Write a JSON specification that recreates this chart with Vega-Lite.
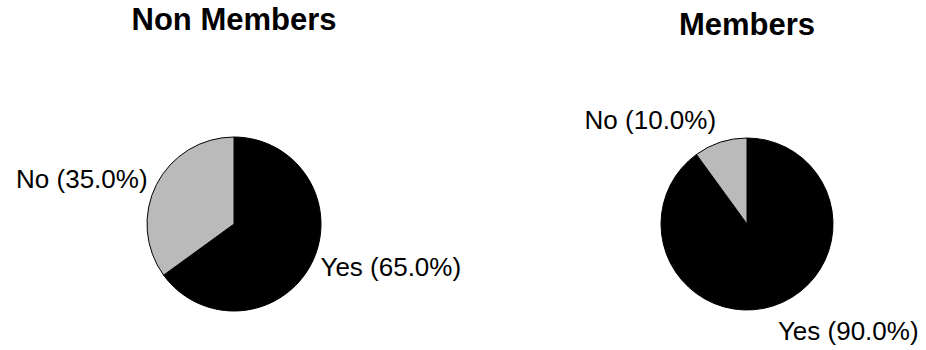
{
  "$schema": "https://vega.github.io/schema/vega-lite/v6.json",
  "padding": {"left": 0, "top": 5, "right": 0, "bottom": 0},
  "background": "white",
  "spacing": 100,
  "config": {
    "view": {"stroke": null},
    "font": "Liberation Sans",
    "title": {"font": "Liberation Sans", "fontSize": 31, "fontWeight": "bold", "color": "black", "anchor": "middle", "baseline": "alphabetic"}
  },
  "data": {"values": [
    {"group": "Non Members", "answer": "Yes", "value": 65, "label": "Yes (65.0%)"},
    {"group": "Non Members", "answer": "No", "value": 35, "label": "No (35.0%)"},
    {"group": "Members", "answer": "Yes", "value": 90, "label": "Yes (90.0%)"},
    {"group": "Members", "answer": "No", "value": 10, "label": "No (10.0%)"}
  ]},
  "hconcat": [
    {
      "width": 468, "height": 254,
      "title": {"text": "Non Members", "offset": 60},
      "transform": [{"filter": "datum.group === 'Non Members'"}],
      "encoding": {
        "theta": {"field": "value", "type": "quantitative", "stack": true},
        "order": {"field": "answer", "type": "ordinal", "sort": "descending"}
      },
      "layer": [
        {"mark": {"type": "arc", "outerRadius": 87, "stroke": "black", "strokeWidth": 1},
         "encoding": {"color": {"field": "answer", "type": "nominal", "scale": {"domain": ["Yes", "No"], "range": ["#000000", "#bababa"]}, "legend": null}}},
        {"mark": {"type": "text", "radius": 97, "fontSize": 26, "font": "Liberation Sans", "align": {"expr": "datum.answer === 'No' ? 'right' : 'left'"}, "baseline": "middle", "color": "black"},
         "encoding": {"text": {"field": "label"}, "detail": {"field": "answer"}}}
      ]
    },
    {
      "width": 358, "height": 254,
      "title": {"text": "Members", "offset": 55},
      "transform": [{"filter": "datum.group === 'Members'"}],
      "encoding": {
        "theta": {"field": "value", "type": "quantitative", "stack": true},
        "order": {"field": "answer", "type": "ordinal", "sort": "descending"}
      },
      "layer": [
        {"mark": {"type": "arc", "outerRadius": 86, "stroke": "black", "strokeWidth": 1},
         "encoding": {"color": {"field": "answer", "type": "nominal", "scale": {"domain": ["Yes", "No"], "range": ["#000000", "#bababa"]}, "legend": null}}},
        {"mark": {"type": "text", "radius": 100, "fontSize": 26, "font": "Liberation Sans", "align": {"expr": "datum.answer === 'No' ? 'right' : 'left'"}, "baseline": {"expr": "datum.answer === 'No' ? 'alphabetic' : 'top'"}, "color": "black"},
         "encoding": {"text": {"field": "label"}, "detail": {"field": "answer"}}}
      ]
    }
  ]
}
